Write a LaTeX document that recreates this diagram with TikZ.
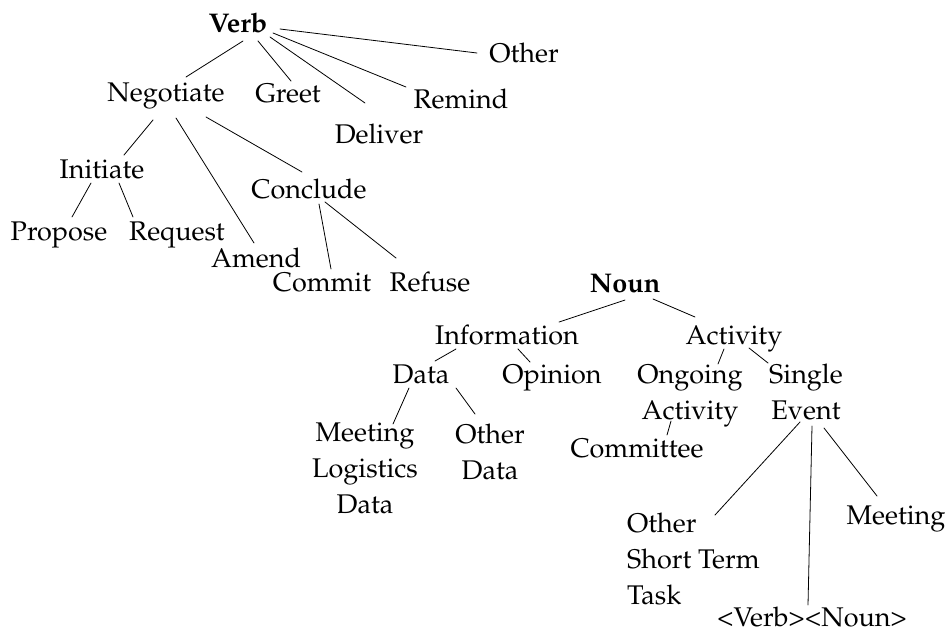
\documentclass[tikz,border=0pt]{standalone}
\usepackage[T1]{fontenc}
\usepackage{mathpazo}
\usetikzlibrary{calc}
\tikzset{
  lbl/.style={inner sep=0pt, anchor=base, font=\fontsize{27}{36}\selectfont},
  treeline/.style={line width=0.8pt, line cap=round}
}
\newcommand{\twolines}[2]{\begin{tabular}[t]{@{}c@{}}#1\\#2\end{tabular}}
\begin{document}
\begin{tikzpicture}[x=1pt, y=-1pt]
\useasboundingbox (0,0) rectangle (949,637);

% Verb hierarchy
\node[lbl] (verb) at (238,32) {\textbf{Verb}};
\node[lbl] (other) at (524,62) {Other};
\node[lbl] (neg) at (166,101) {Negotiate};
\node[lbl] (greet) at (288,102) {Greet};
\node[lbl] (remind) at (461,108) {Remind};
\node[lbl] (deliver) at (379,143) {Deliver};
\node[lbl] (initiate) at (102,178) {Initiate};
\node[lbl] (conclude) at (309,198) {Conclude};
\node[lbl] (propose) at (59,240) {Propose};
\node[lbl] (request) at (177,240) {Request};
\node[lbl] (amend) at (256,267) {Amend};
\node[lbl] (commit) at (322,291) {Commit};
\node[lbl] (refuse) at (430,291) {Refuse};

% Noun hierarchy
\node[lbl] (noun) at (625,292) {\textbf{Noun}};
\node[lbl] (info) at (507,344) {Information};
\node[lbl] (activity) at (734,344) {Activity};
\node[lbl] (data) at (421,383) {Data};
\node[lbl] (opinion) at (552,383) {Opinion};
\node[lbl] (ongoing) at (690,383) {\twolines{Ongoing}{Activity}};
\node[lbl] (single) at (806,383) {\twolines{Single}{Event}};
\node[lbl] (mld) at (365,441) {\begin{tabular}[t]{@{}c@{}}Meeting\\Logistics\\Data\end{tabular}};
\node[lbl] (otherdata) at (490,443) {\twolines{Other}{Data}};
\node[lbl] (committee) at (637,457) {Committee};
\node[lbl, anchor=base west] (ost) at (627,532) {\begin{tabular}[t]{@{}l@{}}Other\\Short Term\\Task\end{tabular}};
\node[lbl] (meeting) at (896,524) {Meeting};
\node[lbl] (vn) at (812,626) {<Verb><Noun>};

% Verb connectors
\draw[treeline] ($(verb.base)+(5,9)$) -- ($(neg.base)+(20,-24)$);
\draw[treeline] ($(verb.base)+(20,9)$) -- ($(greet.base)+(3,-21)$);
\draw[treeline] ($(verb.base)+(32,5)$) -- ($(deliver.base)+(-14,-40)$);
\draw[treeline] ($(verb.base)+(35,1)$) -- ($(remind.base)+(-55,-21)$);
\draw[treeline] ($(verb.base)+(42,-3)$) -- ($(other.base)+(-47,-9)$);
\draw[treeline] ($(neg.base)+(-13,19)$) -- ($(initiate.base)+(22,-23)$);
\draw[treeline] ($(neg.base)+(10,17)$) -- ($(amend.base)+(-2,-24)$);
\draw[treeline] ($(neg.base)+(40,16)$) -- ($(conclude.base)+(-7,-26)$);
\draw[treeline] ($(initiate.base)+(-11,5)$) -- ($(propose.base)+(13,-23)$);
\draw[treeline] ($(initiate.base)+(17,5)$) -- ($(request.base)+(-44,-23)$);
\draw[treeline] ($(conclude.base)+(10,6)$) -- ($(commit.base)+(9,-22)$);
\draw[treeline] ($(conclude.base)+(16,4)$) -- ($(refuse.base)+(-34,-33)$);

% Noun connectors
\draw[treeline] ($(noun.base)+(0,8)$) -- ($(info.base)+(52,-22)$);
\draw[treeline] ($(noun.base)+(28,7)$) -- ($(activity.base)+(-39,-27)$);
\draw[treeline] ($(info.base)+(-51,5)$) -- ($(data.base)+(14,-22)$);
\draw[treeline] ($(info.base)+(11,5)$) -- ($(opinion.base)+(-22,-21)$);
\draw[treeline] ($(activity.base)+(-10,5)$) -- ($(ongoing.base)+(28,-19)$);
\draw[treeline] ($(activity.base)+(15,4)$) -- ($(single.base)+(-38,-20)$);
\draw[treeline] ($(data.base)+(-12,5)$) -- ($(mld.base)+(28,-17)$);
\draw[treeline] ($(data.base)+(35,5)$) -- ($(otherdata.base)+(-15,-29)$);
\draw[treeline] ($(ongoing.base)+(-19,38)$) -- ($(committee.base)+(30,-22)$);
\draw[treeline] ($(single.base)+(-6,39)$) -- ($(ost.base west)+(88,-17)$);
\draw[treeline] ($(single.base)+(6,43)$) -- ($(vn.base)+(-4,-21)$);
\draw[treeline] ($(single.base)+(18,45)$) -- ($(meeting.base)+(-19,-28)$);
\end{tikzpicture}
\end{document}
